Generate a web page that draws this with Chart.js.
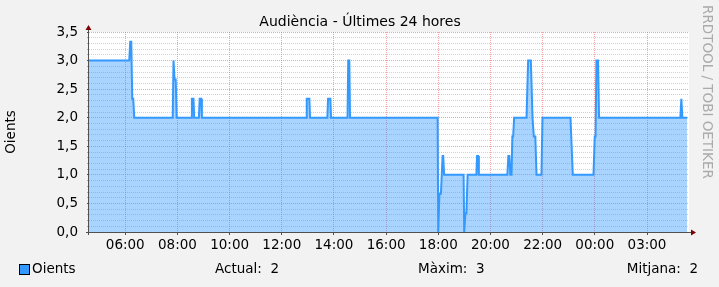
<!DOCTYPE html>
<html>
<head>
<meta charset="utf-8">
<script src="https://cdn.jsdelivr.net/npm/chart.js@4.4.0/dist/chart.umd.min.js"></script>
<style>
body { margin: 0; background: #f2f2f2; }
canvas { display: block; }
</style>
</head>
<body>
<canvas id="chart" width="719" height="287"></canvas>
<script>
// hours on the display axis (06:00 = 6, next day continues past 24)
const hours = [4.61, 6.153, 6.191, 6.23, 6.268, 6.306, 6.345,
  7.819, 7.850, 7.888, 7.934, 7.972,
  8.527, 8.554, 8.615, 8.642, 8.822, 8.853, 8.910, 8.937,
  12.931, 12.958, 13.057, 13.084, 13.747, 13.773, 13.861, 13.888,
  14.520, 14.547, 14.589, 14.616,
  17.974, 17.997, 18.043, 18.100, 18.165, 18.188, 18.223,
  18.970, 18.993, 19.039, 19.077, 19.123,
  19.460, 19.486, 19.525, 19.555,
  20.647, 20.685, 20.723, 20.762, 20.807, 20.838, 20.869, 20.907,
  21.382, 21.443, 21.547, 21.612, 21.662, 21.719, 21.765,
  21.954, 21.993, 23.067, 23.155,
  23.948, 23.997, 24.028, 24.062, 24.124, 24.162,
  27.279, 27.317, 27.355, 27.54];
const oients = [3, 3, 3.33, 3.33, 2.33, 2.33, 2,
  2, 3, 2.67, 2.67, 2,
  2, 2.33, 2.33, 2, 2, 2.33, 2.33, 2,
  2, 2.33, 2.33, 2, 2, 2.33, 2.33, 2,
  2, 3, 3, 2,
  2, 0, 0.67, 0.67, 1.33, 1.33, 1,
  1, 0, 0.33, 0.33, 1,
  1, 1.33, 1.33, 1,
  1, 1.33, 1.33, 1, 1, 1.67, 1.67, 2,
  2, 3, 3, 2, 1.67, 1.67, 1,
  1, 2, 2, 1,
  1, 1.67, 1.67, 3, 3, 2,
  2, 2.33, 2, 2];

const tickHours = [6, 8, 10, 12, 14, 16, 18, 20, 22, 24, 26];
const tickLabels = ['06:00', '08:00', '10:00', '12:00', '14:00', '16:00', '18:00', '20:00', '22:00', '00:00', '03:00'];

const statNames = ['Actual', 'Màxim', 'Mitjana'];
const statValues = [2, 3, 2];

const FONT = '"DejaVu Sans", sans-serif';
Chart.defaults.font.family = FONT;
Chart.defaults.font.size = 13.5;
Chart.defaults.color = '#000';

const isMajor = v => Math.abs(v * 2 - Math.round(v * 2)) < 1e-6;

const rrdFrame = {
  id: 'rrdFrame',
  beforeDraw(chart) {
    const {ctx, chartArea: a} = chart;
    ctx.save();
    ctx.fillStyle = '#f2f2f2';
    ctx.fillRect(0, 0, chart.width, chart.height);
    ctx.fillStyle = '#fff';
    ctx.fillRect(a.left, a.top, a.right - a.left, a.bottom - a.top);
    ctx.restore();
  },
  afterDraw(chart) {
    const {ctx, chartArea: a} = chart;
    ctx.save();
    // axes
    ctx.strokeStyle = '#505050';
    ctx.lineWidth = 1;
    ctx.beginPath();
    ctx.moveTo(a.left - 3, a.bottom + 0.5);
    ctx.lineTo(a.right + 3, a.bottom + 0.5);
    ctx.moveTo(a.left - 0.5, a.bottom + 3);
    ctx.lineTo(a.left - 0.5, a.top - 3);
    ctx.stroke();
    // arrows
    ctx.fillStyle = '#7f0000';
    ctx.beginPath();
    ctx.moveTo(a.right + 7, a.bottom + 0.5);
    ctx.lineTo(a.right + 2, a.bottom - 2.5);
    ctx.lineTo(a.right + 2, a.bottom + 3.5);
    ctx.fill();
    ctx.beginPath();
    ctx.moveTo(a.left - 0.5, a.top - 7);
    ctx.lineTo(a.left - 3.5, a.top - 2);
    ctx.lineTo(a.left + 2.5, a.top - 2);
    ctx.fill();

    // title
    ctx.fillStyle = '#000';
    ctx.font = '14px ' + FONT;
    ctx.textAlign = 'center';
    ctx.textBaseline = 'alphabetic';
    ctx.fillText('Audiència - Últimes 24 hores', 360, 26);

    // legend row
    ctx.font = '13.5px ' + FONT;
    ctx.fillStyle = '#3399ff';
    ctx.fillRect(19.5, 264.5, 10, 10);
    ctx.strokeStyle = '#000';
    ctx.strokeRect(19.5, 264.5, 10, 10);
    ctx.fillStyle = '#000';
    ctx.textAlign = 'left';
    ctx.fillText('Oients', 32, 273);
    ctx.fillText(statNames[0] + ':  ' + statValues[0], 215, 273);
    ctx.fillText(statNames[1] + ':  ' + statValues[1], 418, 273);
    ctx.textAlign = 'right';
    ctx.fillText(statNames[2] + ':  ' + statValues[2], 698, 273);

    // watermark
    ctx.fillStyle = '#ababab';
    ctx.textAlign = 'left';
    ctx.translate(703, 5);
    ctx.rotate(Math.PI / 2);
    ctx.fillText('RRDTOOL / TOBI OETIKER', 0, 0);
    ctx.restore();
  }
};

new Chart(document.getElementById('chart'), {
  type: 'line',
  data: {
    datasets: [{
      label: 'Oients',
      data: hours.map((h, i) => ({x: h, y: oients[i]})),
      borderColor: '#3399ff',
      backgroundColor: 'rgba(51,153,255,0.42)',
      borderWidth: 2,
      pointRadius: 0,
      tension: 0,
      fill: 'origin'
    }]
  },
  options: {
    responsive: false,
    animation: false,
    layout: {padding: {left: 0, top: 32, right: 30, bottom: 30}},
    plugins: {legend: {display: false}, title: {display: false}, tooltip: {enabled: false}},
    scales: {
      x: {
        type: 'linear',
        min: 4.61,
        max: 27.61,
        afterBuildTicks: s => { s.ticks = tickHours.map(v => ({value: v})); },
        afterFit: s => { s.height = 25; },
        ticks: {
          autoSkip: false,
          maxRotation: 0,
          padding: 2,
          callback: (v, i) => tickLabels[i]
        },
        grid: {
          color: 'rgba(230,90,90,0.55)',
          tickColor: '#505050',
          tickLength: 3
        },
        border: {display: false, dash: [1, 1]}
      },
      y: {
        min: 0,
        max: 3.5,
        afterFit: s => { s.width = 89; },
        ticks: {
          stepSize: 0.1,
          autoSkip: false,
          padding: 9,
          callback: v => isMajor(v) ? v.toFixed(1).replace('.', ',') : ''
        },
        grid: {
          color: c => isMajor(c.tick.value) ? 'rgba(230,90,90,0.55)' : 'rgba(128,128,128,0.36)',
          tickColor: c => isMajor(c.tick.value) ? '#505050' : 'rgba(128,128,128,0.6)',
          tickLength: 2
        },
        border: {display: false, dash: [1, 1]},
        title: {display: true, text: 'Oients', padding: {top: 3, bottom: 0}}
      }
    }
  },
  plugins: [rrdFrame]
});
</script>
</body>
</html>
